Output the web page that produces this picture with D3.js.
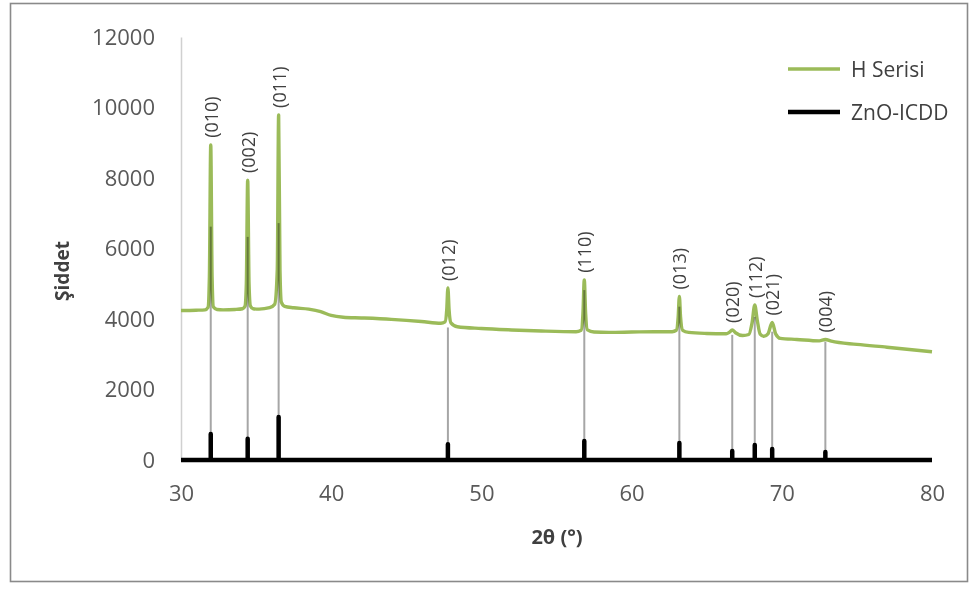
<!DOCTYPE html>
<html>
<head>
<meta charset="utf-8">
<script src="https://cdn.jsdelivr.net/npm/d3@7"></script>
<style>
  html, body { margin: 0; padding: 0; background: #ffffff; }
  svg { display: block; }
  text { font-family: "Open Sans", Lato, "Liberation Sans", sans-serif; }
</style>
</head>
<body>
<svg id="chart" width="971" height="589"></svg>
<script>
// H Serisi diffractogram, sampled at the points that shape its baseline and peaks
const hAngle = [
  30.0, 31.0, 31.6, 31.8, 31.89, 31.98, 32.07, 32.16, 32.4, 32.8,
  33.6, 34.1, 34.26, 34.35, 34.44, 34.53, 34.62, 34.8, 35.2,
  35.9, 36.24, 36.41, 36.5, 36.59, 36.68, 36.9, 37.5, 38.5,
  39.3, 40.0, 40.8, 42.0, 44.0, 46.0, 47.3, 47.58, 47.69, 47.77, 47.85,
  47.97, 48.4, 50.0, 52.0, 54.0, 56.3, 56.64, 56.76, 56.85, 56.94, 57.06,
  57.5, 58.5, 60.0, 61.5, 62.7, 62.98, 63.1, 63.18, 63.26, 63.4, 63.8,
  65.0, 66.3, 66.5, 66.7, 66.92, 67.4, 67.8, 68.02, 68.2, 68.36, 68.56,
  68.8, 69.08, 69.36, 69.6, 69.9, 71.0, 72.5, 72.9, 73.3, 75.0, 77.0, 80.0
];
const hIntensity = [
  4240, 4250, 4260, 4330, 5200, 8940, 5200, 4340, 4270, 4260,
  4270, 4290, 4360, 5000, 7940, 5000, 4370, 4290, 4280,
  4320, 4420, 5400, 9790, 5400, 4480, 4360, 4320, 4280,
  4210, 4100, 4050, 4030, 3990, 3930, 3880, 3920, 4250, 4880, 4250,
  3890, 3780, 3730, 3690, 3660, 3640, 3680, 4150, 5110, 4150, 3690,
  3630, 3620, 3630, 3640, 3640, 3680, 4050, 4640, 4050, 3680, 3620,
  3590, 3580, 3620, 3690, 3610, 3530, 3560, 3890, 4400, 3980, 3570,
  3510, 3580, 3900, 3570, 3450, 3420, 3380, 3420, 3370, 3280, 3200, 3070
];

// ZnO reference pattern (ICDD): Miller indices, positions and intensities
const zncLabels = ["(010)", "(002)", "(011)", "(012)", "(110)", "(013)", "(020)", "(112)", "(021)", "(004)"];
const zncAngle = [31.98, 34.44, 36.5, 47.77, 56.85, 63.18, 66.7, 68.2, 69.36, 72.9];
const zncIntensity = [740, 600, 1220, 450, 540, 480, 255, 425, 310, 230];
// upper end of the guide line drawn from each reference peak
const guideTop = [6620, 6330, 6720, 3760, 4820, 4350, 3550, 4060, 3640, 3355];
// measured peak heights of the H series, where the index labels sit
const peakTop = [8940, 7940, 9790, 4880, 5110, 4640, 3690, 4400, 3900, 3420];

const xTicks = [30, 40, 50, 60, 70, 80];
const yTicks = [0, 2000, 4000, 6000, 8000, 10000, 12000];

const seriesNames = ["H Serisi", "ZnO-ICDD"];
const xTitle = "2θ (°)";
const yTitle = "Şiddet";

const svg = d3.select("#chart");

// outer frame
svg.append("rect")
  .attr("x", 10.5).attr("y", 3.5)
  .attr("width", 957).attr("height", 578)
  .attr("fill", "#ffffff")
  .attr("stroke", "#8a8a8a").attr("stroke-width", 1.6);

const x = d3.scaleLinear().domain([30, 80]).range([181, 932]);
const y = d3.scaleLinear().domain([0, 12000]).range([460, 37]);

// y axis (light line, no ticks)
const yAxis = d3.axisLeft(y).tickValues(yTicks).tickSize(0).tickPadding(26).tickFormat(d3.format("d"));
const gy = svg.append("g").attr("transform", `translate(${x(30)},0)`).call(yAxis);
gy.select(".domain").attr("stroke", "#d0d0d0").attr("stroke-width", 1.5);
gy.selectAll("text").attr("fill", "#595959").style("font-size", "22px");

// x axis labels (the zero line is carried by the reference pattern)
const xAxis = d3.axisBottom(x).tickValues(xTicks).tickSize(0).tickPadding(25).tickFormat(d3.format("d"));
const gx = svg.append("g").attr("transform", `translate(0,${y(0)})`).call(xAxis);
gx.select(".domain").remove();
gx.selectAll("text").attr("fill", "#595959").style("font-size", "22px");

// H series curve
const hPoints = hAngle.map((a, i) => [a, hIntensity[i]]);
const hLine = d3.line().x(d => x(d[0])).y(d => y(d[1])).curve(d3.curveMonotoneX);
svg.append("path")
  .datum(hPoints)
  .attr("d", hLine)
  .attr("fill", "none")
  .attr("stroke", "#9bbb59")
  .attr("stroke-width", 3.4)
  .attr("stroke-linejoin", "round");

// guide lines from the reference peaks up to the measured curve
svg.append("g").selectAll("line")
  .data(zncAngle)
  .join("line")
  .attr("x1", d => x(d)).attr("x2", d => x(d))
  .attr("y1", (d, i) => y(zncIntensity[i]))
  .attr("y2", (d, i) => y(guideTop[i]))
  .attr("stroke", "#a6a6a6")
  .attr("stroke-width", 2)
  .style("mix-blend-mode", "multiply");

// ZnO-ICDD stick pattern as one line series along the zero level
const icddPoints = [[30, 0]];
zncAngle.forEach((a, i) => {
  icddPoints.push([a, 0], [a, zncIntensity[i]], [a, 0]);
});
icddPoints.push([80, 0]);
const icddLine = d3.line().x(d => x(d[0])).y(d => y(d[1]));
svg.append("path")
  .datum(icddPoints)
  .attr("d", icddLine)
  .attr("fill", "none")
  .attr("stroke", "#000000")
  .attr("stroke-width", 4.5)
  .attr("stroke-linejoin", "round");

// Miller index labels above each peak
svg.append("g").selectAll("text")
  .data(zncLabels)
  .join("text")
  .attr("transform", (d, i) => `translate(${x(zncAngle[i])},${y(peakTop[i]) - 7}) rotate(-90)`)
  .attr("dominant-baseline", "central")
  .attr("text-anchor", "start")
  .attr("fill", "#404040")
  .style("font-size", "18px")
  .text(d => d);

// axis titles
svg.append("text")
  .attr("transform", `translate(62,271) rotate(-90)`)
  .attr("text-anchor", "middle")
  .attr("dominant-baseline", "central")
  .attr("fill", "#404040")
  .style("font-size", "19px").style("font-weight", "bold")
  .text(yTitle);

svg.append("text")
  .attr("x", 557).attr("y", 536)
  .attr("text-anchor", "middle")
  .attr("dominant-baseline", "central")
  .attr("fill", "#404040")
  .style("font-size", "20px").style("font-weight", "bold")
  .text(xTitle);

// legend
const legend = svg.append("g");
const legendColors = ["#9bbb59", "#000000"];
const legendWidths = [3.4, 4.5];
seriesNames.forEach((name, i) => {
  const ly = 69 + i * 43;
  legend.append("line")
    .attr("x1", 788).attr("x2", 840)
    .attr("y1", ly).attr("y2", ly)
    .attr("stroke", legendColors[i])
    .attr("stroke-width", legendWidths[i]);
  legend.append("text")
    .attr("x", 851).attr("y", ly)
    .attr("dominant-baseline", "central")
    .attr("fill", "#404040")
    .style("font-size", "21px")
    .text(name);
});
</script>
</body>
</html>
